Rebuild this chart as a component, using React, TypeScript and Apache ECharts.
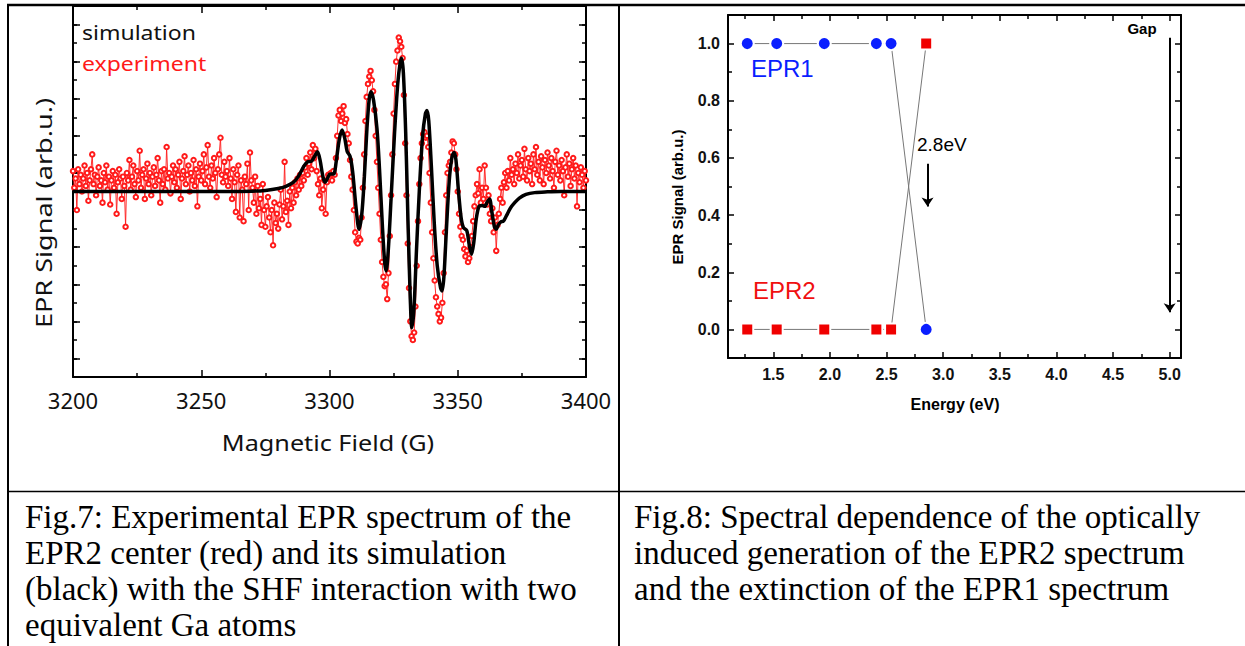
import React, { useEffect, useRef } from 'react';
import * as echarts from 'echarts';

// ---------- Fig.7 data ----------
const fieldMin = 3200;
const fieldMax = 3400;
const fieldInterval = 50;
const signalMajorTicks7 = [-4.5, -3.5, -2.5, -1.5, -0.5, 0.5, 1.5, 2.5, 3.5, 4.5];

const simField = [
  3200, 3260, 3270, 3275, 3280, 3283, 3286, 3288, 3290, 3291.5, 3293, 3294.2, 3295.3, 3296.3, 3297.3, 3298.2,
  3299.2, 3300.2, 3301.6, 3302.6, 3303.8, 3304.9, 3305.9, 3306.9, 3308, 3309, 3310.3, 3311.5, 3312.6, 3313.6,
  3314.6, 3315.5, 3316.2, 3317.2, 3318.5, 3319.5, 3320.6, 3321.5, 3322.1, 3322.9, 3324, 3325.3, 3326.6, 3327.6,
  3328.1, 3328.8, 3329.7, 3330.6, 3331.5, 3332.1, 3332.9, 3333.9, 3335, 3336.3, 3337.4, 3338, 3338.7, 3339.7,
  3340.8, 3342, 3343.3, 3343.9, 3344.6, 3345.6, 3346.7, 3347.8, 3348.6, 3349.3, 3350.3, 3351.3, 3352.2, 3353.5,
  3354.5, 3355.4, 3356.2, 3357.2, 3358.3, 3359.5, 3360.6, 3361.5, 3362.4, 3363.3, 3364.3, 3365, 3365.8, 3366.8,
  3367.8, 3369, 3370.5, 3372.2, 3374, 3376.6, 3380, 3385, 3390, 3400,
];
const simSignal = [
  0, 0, 0.01, 0.03, 0.08, 0.14, 0.25, 0.42, 0.68, 0.8, 0.82, 0.95, 1.07, 0.85, 0.45, 0.25,
  0.35, 0.47, 0.47, 0.8, 1.4, 1.66, 1.45, 1.08, 0.95, 0.55, -0.4, -1.02, -0.6, 0.4,
  1.7, 2.5, 2.69, 2.45, 1.7, 0.6, -0.9, -1.9, -2.14, -1.6, -0.2, 1.5, 2.9, 3.5,
  3.59, 3.2, 1.6, -0.8, -2.9, -3.67, -3.2, -1.6, 0.0, 1.5, 2.1, 2.18, 1.9, 0.7,
  -0.8, -2.0, -2.6, -2.68, -2.3, -1.0, 0.3, 0.95, 1.05, 0.85, 0.0, -0.7, -0.97, -1.05,
  -1.45, -1.69, -1.4, -0.75, -0.4, -0.38, -0.4, -0.28, -0.2, -0.55, -0.95, -1.02, -0.9, -0.82,
  -0.8, -0.65, -0.45, -0.3, -0.18, -0.08, -0.03, -0.01, 0, 0,
];

const expStart = 3200;
const expStep = 0.5;
const expSignal = [
  // 3200
  0.55, 0.1, 0.35, -0.5, 0.6, 0.2, 0.45, 0.0, 0.35, 0.7, 0.15, 0.5, -0.25, 0.3, 0.6, 1.0, 0.2, 0.45, -0.1, 0.4,
  // 3210
  0.65, 0.15, 0.3, -0.3, 0.5, 0.25, 0.7, 0.05, 0.4, -0.35, 0.3, 0.55, 0.1, 0.45, -0.6, 0.25, 0.6, 0.35, -0.2, 0.4,
  // 3220
  0.15, -0.95, 0.5, 0.3, 0.85, 0.05, 0.4, 0.7, 0.2, -0.15, 0.55, 0.3, 1.1, 0.1, 0.45, 0.6, -0.2, 0.35, 0.75, 0.2,
  // 3230
  0.5, -0.1, 0.4, 0.65, 0.15, 0.45, 0.9, 0.3, -0.3, 0.55, 0.2, 0.6, 0.05, 1.2, 0.35, 0.5, -0.05, 0.4, 0.7, 0.25,
  // 3240
  0.6, 0.1, 0.45, 0.8, -0.2, 0.35, 0.55, 0.95, 0.2, 0.45, 0.7, 0.0, 0.5, 0.3, 0.85, 0.15, 0.6, -0.4, 0.4, 0.75,
  // 3250
  0.3, 0.55, 1.0, 0.2, 0.65, 1.25, 0.4, 0.1, 0.7, 0.35, 0.9, 0.5, -0.15, 0.6, 1.0, 1.45, 0.45, 0.25, 0.8, 0.4,
  // 3260
  0.55, 0.15, 0.9, 0.35, -0.2, 0.6, 0.25, -0.55, 0.45, 0.7, -0.7, 0.3, 0.05, -0.8, 0.4, 0.2, 0.75, -0.5, 1.05, 0.3,
  // 3270
  0.1, -0.3, 0.4, -0.6, 0.15, -0.45, -0.2, -0.9, 0.2, -0.5, -0.95, -0.4, -0.15, -0.7, -1.1, -0.5, -1.45, -0.3, -0.85, -0.6,
  // 3280
  -1.0, -0.35, 0.05, -0.75, -0.4, 0.8, -0.55, -0.25, -0.9, 0.0, -0.45, 0.1, -0.3, 0.25, -0.1, 0.35, 0.05, 0.45, 0.15, 0.5,
  // 3290
  0.3, 0.65, 0.9, 0.45, 0.75, 1.05, 0.6, 1.25, 0.9, 1.15, 0.55, 0.2, -0.1, 0.35, -0.45, 0.05, 0.3, -0.6, 0.25, 0.45,
  // 3300
  0.35, 0.5, 0.3, 0.55, 0.45, 0.9, 1.5, 2.05, 2.2, 1.9, 2.1, 2.3, 1.85, 1.95, 1.55, 1.3, 0.85, 0.4, 0.05, -0.5,
  // 3310
  -1.1, -1.35, -1.4, -1.25, -1.3, -0.7, 0.1, 1.0, 1.9, 2.55, 2.9, 3.1, 3.25, 3.0, 2.7, 2.2, 1.5, 0.8, 0.1, -0.6,
  // 3320
  -1.3, -1.9, -2.3, -2.55, -2.5, -2.9, -2.2, -1.2, -0.1, 1.0, 2.1, 2.9, 3.5, 3.8, 4.15, 4.05, 3.9, 3.6, 2.6, 1.3,
  // 3330
  -0.1, -1.4, -2.6, -3.5, -3.9, -4.0, -3.8, -3.1, -2.0, -0.8, 0.2, 0.9, 1.3, 1.55, 1.6, 1.45, 1.5, 1.2, 0.5, -0.3,
  // 3340
  -1.1, -1.8, -2.4, -2.85, -3.1, -3.3, -3.5, -3.4, -3.0, -2.2, -1.1, -0.1, 0.5, 0.7, 0.8, 1.05, 1.35, 1.3, 1.0, 0.6,
  // 3350
  0.0, -0.6, -0.95, -1.2, -1.3, -1.55, -1.75, -1.6, -1.9, -1.8, -1.5, -1.2, -0.8, -0.4, -0.1, 0.2, -0.05, 0.6, -0.3, 0.1,
  // 3360
  -0.2, 0.7, 0.1, -0.35, -0.1, -0.6, -0.8, -0.45, -1.1, -0.7, -1.6, -0.9, -0.6, -0.2, 0.1, -0.3, 0.25, 0.5, 0.1, 0.55,
  // 3370
  0.3, 0.9, 0.45, 0.6, 0.2, 0.75, 0.5, 1.0, 0.35, 0.7, 0.85, 0.4, 1.15, 0.6, 0.3, 0.9, 0.55, 0.75, 0.2, 1.0,
  // 3380
  0.6, 1.2, 0.45, 0.8, 0.3, 0.95, 0.65, 0.2, 0.85, 0.5, 1.05, 0.7, 0.35, 0.9, 0.55, 0.1, 0.8, 1.1, 0.45, 0.7,
  // 3390
  0.3, 0.85, 0.55, -0.1, 0.65, 1.0, 0.4, 0.75, 0.15, 0.6, 0.9, 0.35, 0.7, -0.4, 0.5, 0.25, 0.65, 0.45, 0.1, 0.55, 0.3,
];

// ---------- Fig.8 data ----------
const energies = [1.27, 1.53, 1.95, 2.41, 2.54, 2.85];
const epr1Signal = [1, 1, 1, 1, 1, 0];
const epr2Signal = [0, 0, 0, 0, 0, 1];
const energyTicks = [1.5, 2.0, 2.5, 3.0, 3.5, 4.0, 4.5, 5.0];
const energyMinorTicks = [1.25, 1.75, 2.25, 2.75, 3.25, 3.75, 4.25, 4.75];
const signalTicks8 = [0, 0.2, 0.4, 0.6, 0.8, 1.0];
const signalMinorTicks8 = [0.1, 0.3, 0.5, 0.7, 0.9];
const arrow28 = [[2.862, 0.58], [2.862, 0.43]];
const arrowGap = [[5.0, 1.02], [5.0, 0.06]];

const captions7 = [
  'Fig.7: Experimental EPR spectrum of the',
  'EPR2 center (red) and its simulation',
  '(black) with the SHF interaction with two',
  'equivalent Ga atoms',
];
const captions8 = [
  'Fig.8: Spectral dependence of the optically',
  'induced generation of the EPR2 spectrum',
  'and the extinction of the EPR1 spectrum',
];

const BLK = '#000';
const RED = '#ff1a1a';
const BLUE = '#0a1eff';

function txt(x: number, y: number, text: string, font: string, fill: string, align = 'left', extra: any = {}) {
  return {
    type: 'text',
    x,
    y,
    silent: true,
    ...extra,
    style: { text, font, fill, align, verticalAlign: 'middle', textAlign: align, textVerticalAlign: 'middle' },
  };
}

function hline(x1: number, y1: number, x2: number, y2: number, w: number) {
  return { type: 'line', silent: true, shape: { x1, y1, x2, y2 }, style: { stroke: BLK, lineWidth: w } };
}

export default function App() {
  const ref = useRef<HTMLDivElement>(null);
  useEffect(() => {
    if (!ref.current) return;
    const chart = echarts.init(ref.current, undefined, { renderer: 'svg' });

    const lineStyle = { color: BLK, width: 2 };
    const tickStyle = { color: BLK, width: 1.5 };

    const xAxis: any[] = [
      // Fig.7 bottom
      {
        gridIndex: 0, type: 'value', min: fieldMin, max: fieldMax, interval: fieldInterval, position: 'bottom',
        axisLine: { show: true, onZero: false, lineStyle },
        axisTick: { show: true, inside: true, length: 7, lineStyle: tickStyle },
        minorTick: { show: true, splitNumber: 2, length: 4, lineStyle: tickStyle },
        splitLine: { show: false }, minorSplitLine: { show: false },
        axisLabel: {
          show: true, margin: 12, fontSize: 22, fontFamily: 'Noto Sans', color: '#111',
          formatter: (v: number) => String(v),
        },
      },
      // Fig.7 top
      {
        gridIndex: 0, type: 'value', min: fieldMin, max: fieldMax, interval: fieldInterval, position: 'top',
        axisLine: { show: true, onZero: false, lineStyle },
        axisTick: { show: true, inside: true, length: 7, lineStyle: tickStyle },
        minorTick: { show: true, splitNumber: 2, length: 4, lineStyle: tickStyle },
        splitLine: { show: false }, axisLabel: { show: false },
      },
      // Fig.8 bottom major
      {
        gridIndex: 1, type: 'value', min: 1.1, max: 5.1, position: 'bottom',
        axisLine: { show: true, onZero: false, lineStyle },
        axisTick: { show: true, inside: true, length: 6, lineStyle: tickStyle, customValues: energyTicks },
        splitLine: { show: false },
        axisLabel: {
          show: true, margin: 8, customValues: energyTicks, fontSize: 16, fontWeight: 'bold',
          fontFamily: 'Liberation Sans', color: '#111', formatter: (v: number) => v.toFixed(1),
        },
      },
      // Fig.8 bottom minor
      {
        gridIndex: 1, type: 'value', min: 1.1, max: 5.1, position: 'bottom',
        axisLine: { show: false, onZero: false },
        axisTick: { show: true, inside: true, length: 4, lineStyle: tickStyle, customValues: energyMinorTicks },
        splitLine: { show: false }, axisLabel: { show: false },
      },
      // Fig.8 top major
      {
        gridIndex: 1, type: 'value', min: 1.1, max: 5.1, position: 'top',
        axisLine: { show: true, onZero: false, lineStyle },
        axisTick: { show: true, inside: true, length: 6, lineStyle: tickStyle, customValues: energyTicks },
        splitLine: { show: false }, axisLabel: { show: false },
      },
      // Fig.8 top minor
      {
        gridIndex: 1, type: 'value', min: 1.1, max: 5.1, position: 'top',
        axisLine: { show: false, onZero: false },
        axisTick: { show: true, inside: true, length: 4, lineStyle: tickStyle, customValues: energyMinorTicks },
        splitLine: { show: false }, axisLabel: { show: false },
      },
    ];

    const yAxis: any[] = [
      // Fig.7 left minor (all)
      {
        gridIndex: 0, type: 'value', min: -5, max: 5, interval: 0.5, position: 'left',
        axisLine: { show: true, onZero: false, lineStyle },
        axisTick: { show: true, inside: true, length: 4, lineStyle: tickStyle },
        splitLine: { show: false }, axisLabel: { show: false },
      },
      // Fig.7 left major
      {
        gridIndex: 0, type: 'value', min: -5, max: 5, position: 'left',
        axisLine: { show: false, onZero: false },
        axisTick: { show: true, inside: true, length: 7, lineStyle: tickStyle, customValues: signalMajorTicks7 },
        splitLine: { show: false }, axisLabel: { show: false },
      },
      // Fig.7 right minor
      {
        gridIndex: 0, type: 'value', min: -5, max: 5, interval: 0.5, position: 'right',
        axisLine: { show: true, onZero: false, lineStyle },
        axisTick: { show: true, inside: true, length: 4, lineStyle: tickStyle },
        splitLine: { show: false }, axisLabel: { show: false },
      },
      // Fig.7 right major
      {
        gridIndex: 0, type: 'value', min: -5, max: 5, position: 'right',
        axisLine: { show: false, onZero: false },
        axisTick: { show: true, inside: true, length: 7, lineStyle: tickStyle, customValues: signalMajorTicks7 },
        splitLine: { show: false }, axisLabel: { show: false },
      },
      // Fig.8 left major
      {
        gridIndex: 1, type: 'value', min: -0.1, max: 1.1, position: 'left',
        axisLine: { show: true, onZero: false, lineStyle },
        axisTick: { show: true, inside: true, length: 6, lineStyle: tickStyle, customValues: signalTicks8 },
        splitLine: { show: false },
        axisLabel: {
          show: true, margin: 8, customValues: signalTicks8, fontSize: 16, fontWeight: 'bold',
          fontFamily: 'Liberation Sans', color: '#111', formatter: (v: number) => v.toFixed(1),
        },
      },
      // Fig.8 left minor
      {
        gridIndex: 1, type: 'value', min: -0.1, max: 1.1, position: 'left',
        axisLine: { show: false, onZero: false },
        axisTick: { show: true, inside: true, length: 4, lineStyle: tickStyle, customValues: signalMinorTicks8 },
        splitLine: { show: false }, axisLabel: { show: false },
      },
      // Fig.8 right major
      {
        gridIndex: 1, type: 'value', min: -0.1, max: 1.1, position: 'right',
        axisLine: { show: true, onZero: false, lineStyle },
        axisTick: { show: true, inside: true, length: 6, lineStyle: tickStyle, customValues: signalTicks8 },
        splitLine: { show: false }, axisLabel: { show: false },
      },
      // Fig.8 right minor
      {
        gridIndex: 1, type: 'value', min: -0.1, max: 1.1, position: 'right',
        axisLine: { show: false, onZero: false },
        axisTick: { show: true, inside: true, length: 4, lineStyle: tickStyle, customValues: signalMinorTicks8 },
        splitLine: { show: false }, axisLabel: { show: false },
      },
    ];

    const expData = expSignal.map((v, i) => [expStart + i * expStep, v]);
    const simData = simField.map((f, i) => [f, simSignal[i]]);
    const epr1Data = energies.map((e, i) => [e, epr1Signal[i]]);
    const epr2Data = energies.map((e, i) => [e, epr2Signal[i]]);

    const graphic: any[] = [
      // table borders
      hline(7, 5, 1245, 5, 2.5),
      hline(8, 4, 8, 646, 2),
      hline(619, 4, 619, 646, 2),
      hline(7, 491.5, 1245, 491.5, 1.5),
      // Fig.7 legend and axis titles
      txt(82, 32, 'simulation', '20px "Noto Sans"', '#111', 'left', { scaleX: 1.15 }),
      txt(82, 63, 'experiment', '20px "Noto Sans"', RED, 'left', { scaleX: 1.15 }),
      txt(328, 443, 'Magnetic Field (G)', '21px "Noto Sans"', '#111', 'center', { scaleX: 1.2 }),
      txt(44, 213, 'EPR Signal (arb.u.)', '22px "Noto Sans"', '#111', 'center', { rotation: Math.PI / 2, scaleX: 1.23 }),
      // Fig.8 annotations and axis titles
      txt(751, 68, 'EPR1', '24px "Liberation Sans"', BLUE, 'left'),
      txt(753, 290, 'EPR2', '24px "Liberation Sans"', '#f01010', 'left'),
      txt(917, 144, '2.8eV', '19px "Liberation Sans"', '#000', 'left'),
      txt(1142, 28, 'Gap', 'bold 15px "Liberation Sans"', '#000', 'center'),
      txt(955, 404, 'Energy (eV)', 'bold 16px "Liberation Sans"', '#000', 'center'),
      txt(677, 197, 'EPR Signal (arb.u.)', 'bold 15px "Liberation Sans"', '#000', 'center', { rotation: Math.PI / 2 }),
    ];
    captions7.forEach((c, i) => graphic.push(txt(25, 517 + i * 36, c, '33px "Liberation Serif"', '#000', 'left')));
    captions8.forEach((c, i) => graphic.push(txt(634, 517 + i * 36, c, '33px "Liberation Serif"', '#000', 'left')));

    chart.setOption({
      animation: false,
      backgroundColor: '#fff',
      grid: [
        { left: 73, top: 6, width: 513, height: 371, containLabel: false },
        { left: 728, top: 15, width: 453, height: 343, containLabel: false },
      ],
      xAxis,
      yAxis,
      series: [
        {
          name: 'experiment', type: 'line', xAxisIndex: 0, yAxisIndex: 0, data: expData,
          symbol: 'emptyCircle', symbolSize: 4.5, showAllSymbol: true, z: 2,
          lineStyle: { color: RED, width: 0.9 }, itemStyle: { color: RED, borderColor: RED, borderWidth: 1 },
        },
        {
          name: 'simulation', type: 'line', xAxisIndex: 0, yAxisIndex: 0, data: simData,
          symbol: 'none', smooth: 0.3, z: 3, lineStyle: { color: BLK, width: 3.5 },
        },
        {
          name: 'EPR1', type: 'line', xAxisIndex: 2, yAxisIndex: 4, data: epr1Data,
          symbol: 'circle', symbolSize: 13, z: 3,
          lineStyle: { color: '#777', width: 1 },
          itemStyle: { color: BLUE, borderColor: '#fff', borderWidth: 2 },
          markLine: {
            silent: true, symbol: ['none', 'arrow'], symbolSize: 9, label: { show: false },
            lineStyle: { color: '#000', width: 2, type: 'solid' },
            data: [
              [{ coord: arrow28[0] }, { coord: arrow28[1] }],
              [{ coord: arrowGap[0] }, { coord: arrowGap[1] }],
            ],
          },
        },
        {
          name: 'EPR2', type: 'line', xAxisIndex: 2, yAxisIndex: 4, data: epr2Data,
          symbol: 'rect', symbolSize: 12, z: 3,
          lineStyle: { color: '#777', width: 1 },
          itemStyle: { color: '#f00000', borderColor: '#fff', borderWidth: 2 },
        },
      ],
      graphic,
    });
    return () => chart.dispose();
  }, []);
  return <div ref={ref} style={{ position: 'absolute', left: 0, top: 0, width: 1245, height: 646, background: '#fff' }} />;
}
